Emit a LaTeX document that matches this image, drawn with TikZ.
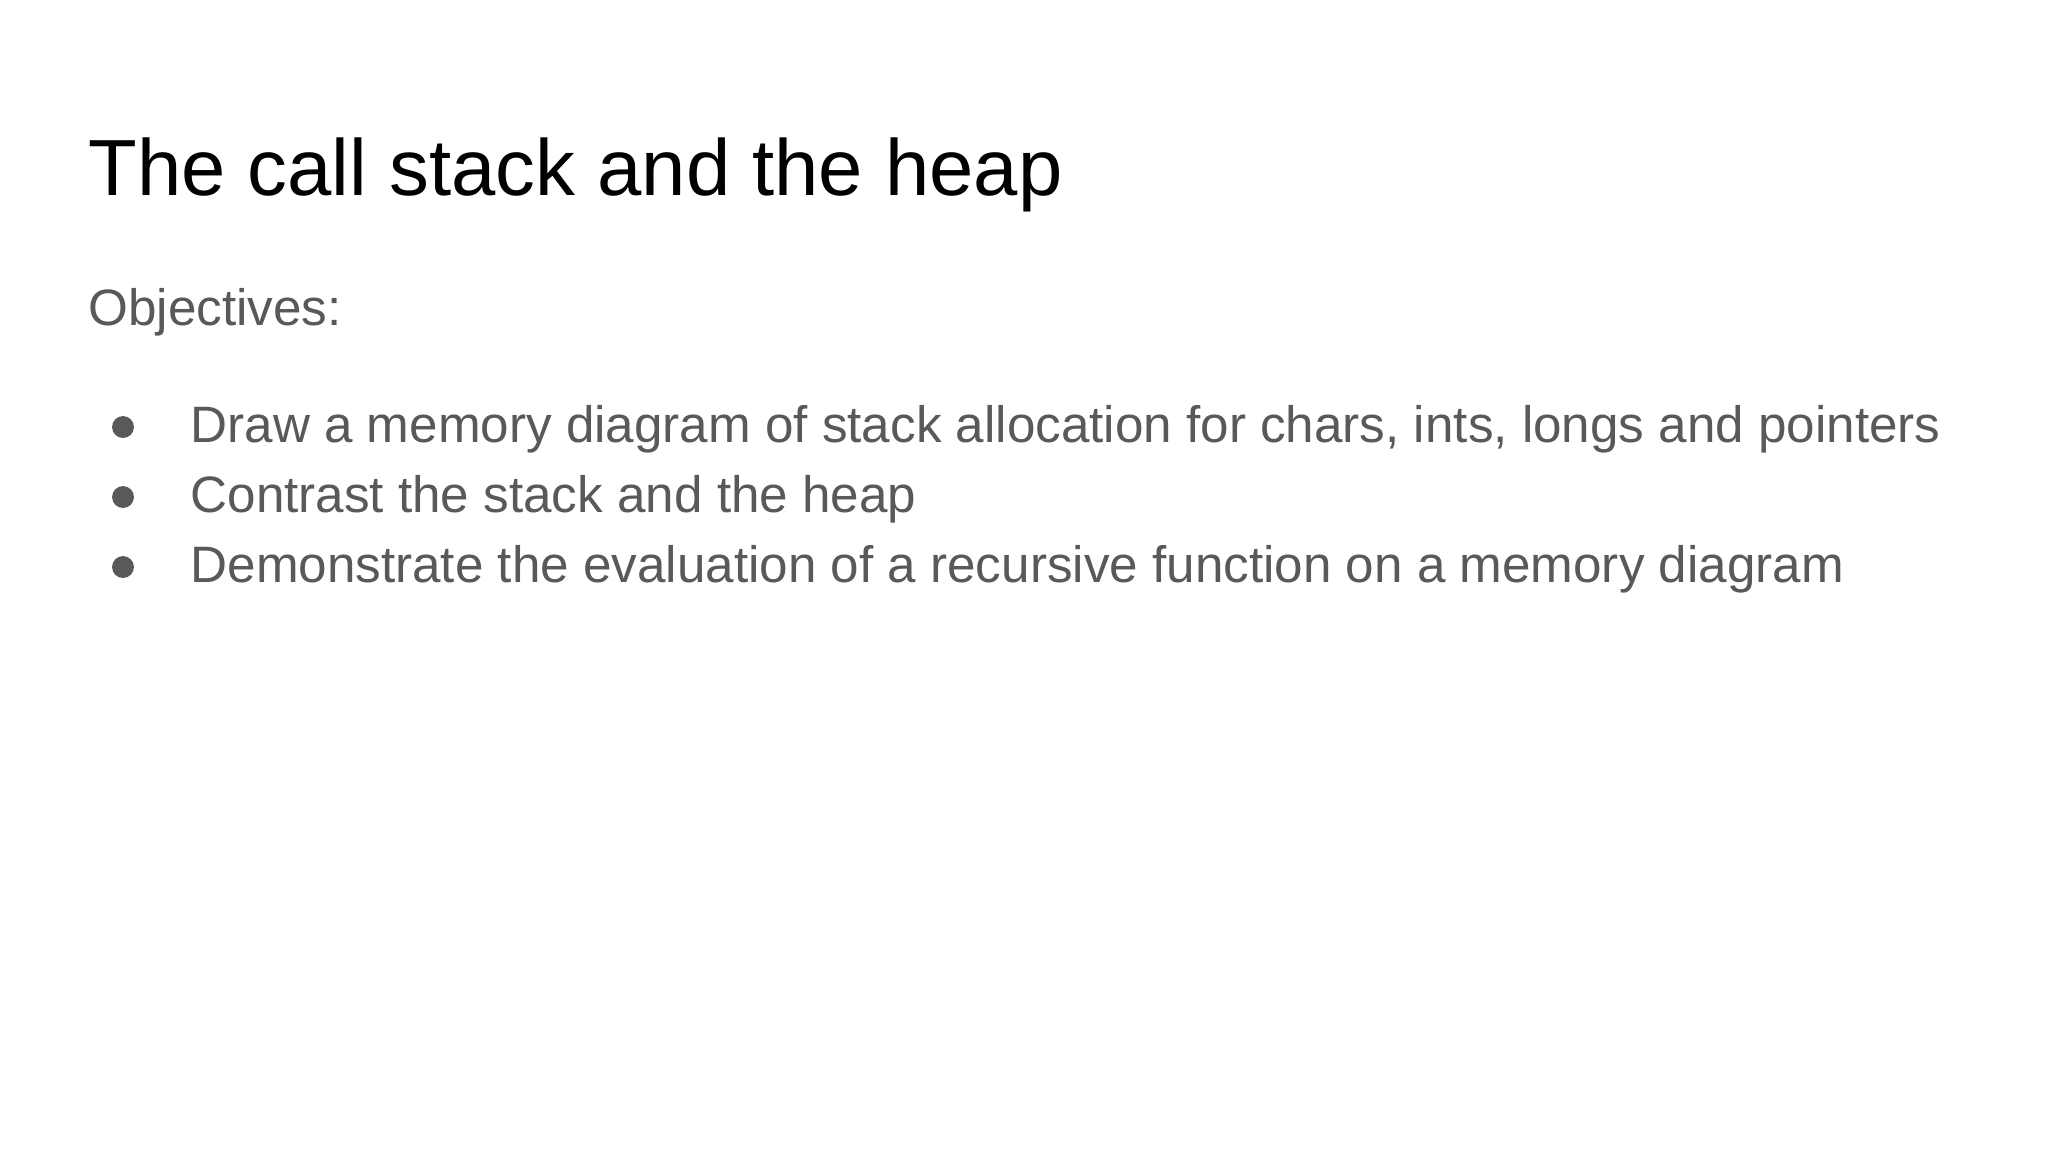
\documentclass[tikz,border=0pt]{standalone}
\usepackage{fontspec}
\setmainfont{Liberation Sans}
\definecolor{textgray}{HTML}{595959}
\begin{document}
\begin{tikzpicture}[x=0.3515625pt,y=-0.3515625pt,
		slidetitle/.style={anchor=base west,inner sep=0pt,font=\fontsize{28}{34}\selectfont,text=black},
		bodytext/.style={anchor=base west,inner sep=0pt,font=\fontsize{18}{22}\selectfont,text=textgray},
		bulletdot/.style={circle,fill=textgray,inner sep=0pt,minimum size=7.7pt}]
		\useasboundingbox[fill=white] (0,0) rectangle (2048,1152);
		\node[slidetitle] (title) at (88,195) {The call stack and the heap};
		\node[bodytext] (objectives) at (88,325) {Objectives:};
		\node[bulletdot] (dot1) at (123,427) {};
		\node[bodytext] (item1) at (190,442) {Draw a memory diagram of stack allocation for chars, ints, longs and pointers};
		\node[bulletdot] (dot2) at (123,497) {};
		\node[bodytext] (item2) at (190,512) {Contrast the stack and the heap};
		\node[bulletdot] (dot3) at (123,567) {};
		\node[bodytext] (item3) at (190,582) {Demonstrate the evaluation of a recursive function on a memory diagram};
		\end{tikzpicture}
\end{document}
